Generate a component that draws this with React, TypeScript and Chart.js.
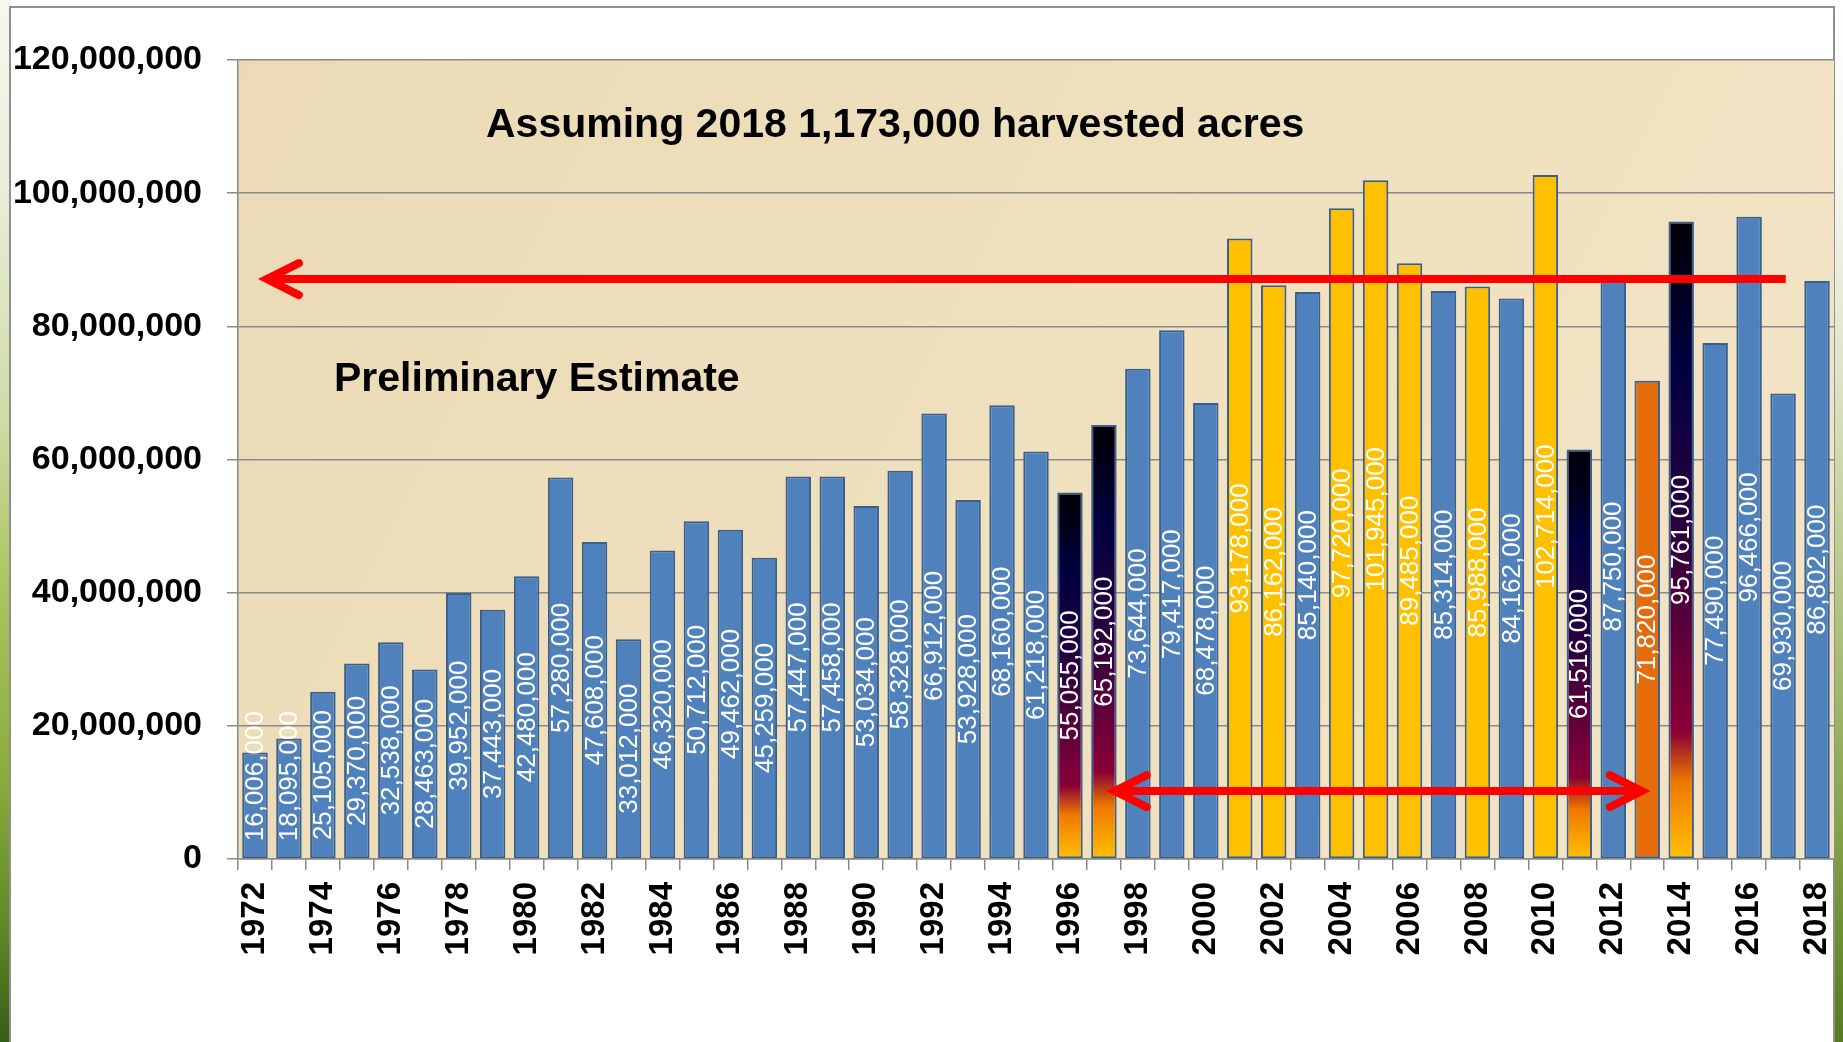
import React, { useEffect, useRef } from "react";
import { Chart, registerables } from "chart.js";

Chart.register(...registerables);

const years = [
  "1972", "1973", "1974", "1975", "1976", "1977", "1978", "1979", "1980", "1981",
  "1982", "1983", "1984", "1985", "1986", "1987", "1988", "1989", "1990", "1991",
  "1992", "1993", "1994", "1995", "1996", "1997", "1998", "1999", "2000", "2001",
  "2002", "2003", "2004", "2005", "2006", "2007", "2008", "2009", "2010", "2011",
  "2012", "2013", "2014", "2015", "2016", "2017", "2018",
];

const production = [
  16006000, 18095000, 25105000, 29370000, 32538000, 28463000, 39952000, 37443000, 42480000, 57280000,
  47608000, 33012000, 46320000, 50712000, 49462000, 45259000, 57447000, 57458000, 53034000, 58328000,
  66912000, 53928000, 68160000, 61218000, 55055000, 65192000, 73644000, 79417000, 68478000, 93178000,
  86162000, 85140000, 97720000, 101945000, 89485000, 85314000, 85988000, 84162000, 102714000, 61516000,
  87750000, 71820000, 95761000, 77490000, 96466000, 69930000, 86802000,
];

const yellowYears = ["2001", "2002", "2004", "2005", "2006", "2008", "2010"];
const gradientYears = ["1996", "1997", "2011", "2014"];
const orangeYears = ["2013"];

const yMax = 120000000;
const yStep = 20000000;

const titleMain = "Assuming 2018 1,173,000 harvested acres";
const titleSub = "Preliminary Estimate";

// arrows: positions expressed as fractional category index and a value on the y scale
const topArrow = { value: 87100000, tip: 0.35, tail: 45.08 };
const bottomArrow = { value: 10200000, left: 25.32, right: 40.84 };

const BLUE = "#4F81BD";
const YELLOW = "#FFC000";
const ORANGE = "#E46C0A";
const BORDER = "#3A5F8C";
const GRID = "#8A8A8A";
const FONT = '"Liberation Sans", Arial, sans-serif';

function barColor(ctx: any) {
  const year = years[ctx.dataIndex];
  if (yellowYears.includes(year)) return YELLOW;
  if (orangeYears.includes(year)) return ORANGE;
  if (gradientYears.includes(year)) {
    const chart = ctx.chart;
    const ys = chart.scales && chart.scales.y;
    if (!chart.chartArea || !ys) return "#300040";
    const top = ys.getPixelForValue(production[ctx.dataIndex]);
    const base = ys.getPixelForValue(0);
    const g = chart.ctx.createLinearGradient(0, top, 0, base);
    g.addColorStop(0, "#000008");
    g.addColorStop(0.08, "#000018");
    g.addColorStop(0.22, "#000040");
    g.addColorStop(0.48, "#2A0040");
    g.addColorStop(0.74, "#780038");
    g.addColorStop(0.8, "#880034");
    g.addColorStop(0.88, "#F07800");
    g.addColorStop(1, "#FFC000");
    return g;
  }
  return BLUE;
}

const backgroundPlugin = {
  id: "parchment",
  beforeDraw(chart: any) {
    const { ctx, chartArea: a } = chart;
    ctx.save();
    const g = ctx.createLinearGradient(a.left, a.top, a.right, a.bottom);
    g.addColorStop(0, "#EBDAB5");
    g.addColorStop(0.5, "#EFE0BE");
    g.addColorStop(1, "#F2E4C6");
    ctx.fillStyle = g;
    ctx.fillRect(a.left, a.top, a.right - a.left, a.bottom - a.top);
    ctx.restore();
  },
};

const labelPlugin = {
  id: "barLabels",
  afterDatasetsDraw(chart: any) {
    const { ctx } = chart;
    const meta = chart.getDatasetMeta(0);
    ctx.save();
    ctx.font = `26px ${FONT}`;
    ctx.fillStyle = "#FFFFFF";
    ctx.textAlign = "center";
    ctx.textBaseline = "middle";
    meta.data.forEach((bar: any, i: number) => {
      const { x, y, base } = bar.getProps(["x", "y", "base"], true);
      const text = production[i].toLocaleString("en-US");
      const w = ctx.measureText(text).width;
      let cy = (y + base) / 2;
      cy = Math.min(cy, base - 17 - w / 2);
      ctx.save();
      ctx.translate(x + 1, cy);
      ctx.rotate(-Math.PI / 2);
      ctx.fillText(text, 0, 0);
      ctx.restore();
    });
    ctx.restore();
  },
};

function drawHead(ctx: CanvasRenderingContext2D, tipX: number, y: number, dir: number) {
  ctx.beginPath();
  ctx.moveTo(tipX + dir * 32, y - 16);
  ctx.lineTo(tipX, y);
  ctx.lineTo(tipX + dir * 32, y + 16);
  ctx.stroke();
}

const arrowPlugin = {
  id: "arrows",
  afterDatasetsDraw(chart: any) {
    const { ctx } = chart;
    const xs = chart.scales.x;
    const ys = chart.scales.y;
    const x0 = xs.getPixelForValue(0);
    const step = xs.getPixelForValue(1) - x0;
    const px = (i: number) => x0 + i * step;
    ctx.save();
    ctx.strokeStyle = "#FF0000";
    ctx.lineWidth = 8;
    ctx.lineJoin = "miter";
    ctx.miterLimit = 10;

    const ty = ys.getPixelForValue(topArrow.value);
    ctx.lineCap = "butt";
    ctx.beginPath();
    ctx.moveTo(px(topArrow.tip) + 6, ty);
    ctx.lineTo(px(topArrow.tail), ty);
    ctx.stroke();
    ctx.lineCap = "round";
    drawHead(ctx, px(topArrow.tip), ty, 1);

    const by = ys.getPixelForValue(bottomArrow.value);
    ctx.lineCap = "butt";
    ctx.beginPath();
    ctx.moveTo(px(bottomArrow.left) + 6, by);
    ctx.lineTo(px(bottomArrow.right) - 6, by);
    ctx.stroke();
    ctx.lineCap = "round";
    drawHead(ctx, px(bottomArrow.left), by, 1);
    drawHead(ctx, px(bottomArrow.right), by, -1);
    ctx.restore();
  },
};

const textPlugin = {
  id: "annotText",
  afterDraw(chart: any) {
    const { ctx, chartArea: a } = chart;
    ctx.save();
    ctx.fillStyle = "#000000";
    ctx.font = `bold 41px ${FONT}`;
    ctx.textAlign = "left";
    ctx.textBaseline = "alphabetic";
    ctx.fillText(titleMain, a.left + 248, a.top + 77);
    ctx.fillText(titleSub, a.left + 96, a.top + 331);
    ctx.restore();
  },
};

export default function App() {
  const ref = useRef<HTMLCanvasElement | null>(null);

  useEffect(() => {
    if (!ref.current) return;
    const chart = new Chart(ref.current, {
      type: "bar",
      data: {
        labels: years,
        datasets: [
          {
            data: production,
            backgroundColor: barColor,
            borderColor: BORDER,
            borderWidth: 2,
            borderSkipped: false,
            barPercentage: 0.75,
            categoryPercentage: 1.0,
          },
        ],
      },
      options: {
        responsive: false,
        animation: false,
        devicePixelRatio: 1,
        events: [],
        layout: { padding: { left: 0, top: 60, right: 9, bottom: 0 } },
        plugins: {
          legend: { display: false },
          title: { display: false },
          tooltip: { enabled: false },
        },
        scales: {
          x: {
            offset: true,
            afterFit(scale: any) {
              scale.height = 183;
              scale.paddingLeft = 0;
              scale.paddingRight = 0;
            },
            grid: {
              offset: true,
              drawOnChartArea: false,
              drawTicks: true,
              tickLength: 11,
              color: GRID,
              lineWidth: 1.5,
            },
            border: { display: true, color: GRID, width: 1.5 },
            ticks: {
              autoSkip: false,
              minRotation: 90,
              maxRotation: 90,
              padding: 12,
              color: "#000000",
              font: { family: FONT, size: 33, weight: "bold" },
              callback: (_v: any, i: number) => (i % 2 === 0 ? years[i] : ""),
            },
          },
          y: {
            min: 0,
            max: yMax,
            afterFit(scale: any) {
              scale.width = 238;
              scale.paddingTop = 0;
              scale.paddingBottom = 0;
            },
            grid: {
              color: GRID,
              lineWidth: 1.5,
              drawTicks: true,
              tickLength: 11,
            },
            border: { display: true, color: GRID, width: 1.5 },
            ticks: {
              stepSize: yStep,
              padding: 25,
              color: "#000000",
              font: { family: FONT, size: 34, weight: "bold" },
              callback: (v: any) => Number(v).toLocaleString("en-US"),
            },
          },
        },
      },
      plugins: [backgroundPlugin, labelPlugin, arrowPlugin, textPlugin],
    });
    return () => chart.destroy();
  }, []);

  return (
    <div
      style={{
        position: "fixed",
        left: 0,
        top: 0,
        width: 1843,
        height: 1042,
        overflow: "hidden",
        background: "#ffffff",
      }}
    >
      <div
        style={{
          position: "absolute",
          left: 0,
          top: 0,
          width: 12,
          height: 1042,
          background:
            "linear-gradient(to bottom, #f6f8f0 0%, #e8eed8 18%, #cfdca6 40%, #a9c25a 58%, #8aab3c 75%, #5b8526 90%, #345f16 100%)",
        }}
      />
      <div
        style={{
          position: "absolute",
          right: 0,
          top: 0,
          width: 12,
          height: 1042,
          background:
            "linear-gradient(to bottom, #ffffff 0%, #f7f8f2 15%, #dfe6cb 35%, #b9c98e 55%, #8fa955 75%, #6d8f30 90%, #557a22 100%)",
        }}
      />
      <div
        style={{
          position: "absolute",
          left: 9,
          top: 6,
          width: 1826,
          height: 1060,
          boxSizing: "border-box",
          background: "#ffffff",
          border: "2px solid #8F8F8F",
        }}
      />
      <canvas
        ref={ref}
        width={1843}
        height={1042}
        style={{ position: "absolute", left: 0, top: 0, width: 1843, height: 1042 }}
      />
    </div>
  );
}
